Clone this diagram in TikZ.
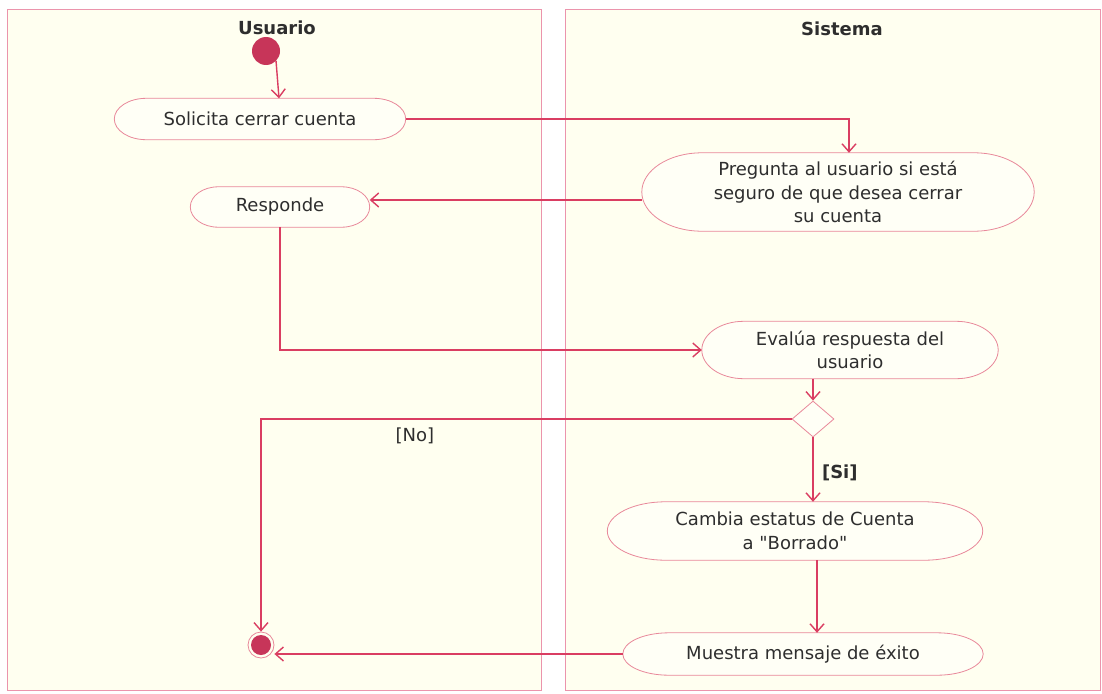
\documentclass[tikz,border=0pt]{standalone}
\usepackage{fontspec}
\setmainfont{DejaVu Sans}[Ligatures=TeXOff]
\usetikzlibrary{arrows.meta,shapes.geometric,positioning,calc,backgrounds}

\definecolor{laneline}{HTML}{EB94AC}
\definecolor{lanefill}{HTML}{FFFFF0}
\definecolor{actline}{HTML}{E8889A}
\definecolor{actfill}{HTML}{FFFFF6}
\definecolor{flowred}{HTML}{DA3E62}
\definecolor{dotred}{HTML}{C73559}
\definecolor{txt}{HTML}{2E2E2E}

% activity outline with half-elliptic ends: node name, end radius
\newcommand{\actborde}[2]{%
  \draw[draw=actline, fill=actfill, line width=0.8pt]
    let \p1=(#1.north west), \p2=(#1.south east) in
    (\x1+#2,\y1) -- (\x2-#2,\y1)
      arc[start angle=90, end angle=-90, x radius=#2, y radius={(\y1-\y2)/2}]
    -- (\x1+#2,\y2)
      arc[start angle=-90, end angle=-270, x radius=#2, y radius={(\y1-\y2)/2}]
    -- cycle;}

\begin{document}
\begin{tikzpicture}[x=1pt, y=-1pt,
    lane/.style={draw=laneline, fill=lanefill, line width=0.8pt},
    lanetitle/.style={font=\fontsize{18}{22}\bfseries, text=txt},
    act/.style={rectangle, text=txt, align=center, inner sep=0pt,
                font=\fontsize{18}{23.5}\selectfont},
    guard/.style={text=txt, font=\fontsize{18}{22}\selectfont},
    flow/.style={draw=flowred, line width=1.4pt,
                 -{Straight Barb[length=8pt,width=14pt,line width=1.4pt]}}]

    % --- activities ---
    \node[circle, fill=dotred, minimum size=28pt, inner sep=0pt] (inicio) at (266,51) {};
    \node[act, minimum width=291pt, minimum height=41pt] (solicita) at (260,119) {Solicita cerrar cuenta};
    \node[act, minimum width=392pt, minimum height=78pt] (pregunta) at (838,192)
        {Pregunta al usuario si está\\seguro de que desea cerrar\\su cuenta};
    \node[act, minimum width=179pt, minimum height=40pt] (responde) at (280,207) {Responde};
    \node[act, minimum width=296pt, minimum height=57pt] (evalua) at (850,350)
        {Evalúa respuesta del\\usuario};
    \node[diamond, draw=actline, fill=actfill, line width=0.8pt, inner sep=0pt,
          minimum width=42pt, minimum height=36pt] (decision) at (813,419) {};
    \node[act, minimum width=375pt, minimum height=58pt] (cambia) at (795,531)
        {Cambia estatus de Cuenta\\a "Borrado"};
    \node[act, minimum width=360pt, minimum height=42pt] (muestra) at (803,654)
        {Muestra mensaje de éxito};
    \node[circle, draw=actline, fill=lanefill, line width=0.8pt, minimum size=26pt,
          inner sep=0pt] (fin) at (261,645) {};
    \fill[dotred] (fin.center) circle (10);
    \coordinate (paso) at (817,0);

    % --- page, swimlanes and activity outlines ---
    \begin{scope}[on background layer]
        \fill[white] (0,0) rectangle (1102,693);
        \draw[lane] (7,9) rectangle (541,690);
        \draw[lane] (565,9) rectangle (1100,690);
        \actborde{solicita}{32pt}
        \actborde{responde}{28pt}
        \actborde{pregunta}{60pt}
        \actborde{evalua}{42pt}
        \actborde{cambia}{58pt}
        \actborde{muestra}{46pt}
    \end{scope}
    \useasboundingbox (0,0) rectangle (1102,693);
    \node[lanetitle] (usuario) at (277,28) {Usuario};
    \node[lanetitle] (sistema) at (842,29) {Sistema};

    % --- control flow ---
    \draw[flow] (inicio.-45) -- ($(solicita.north)+(19,0)$);
    \draw[flow] (solicita.east) -| ($(pregunta.north)+(11,0)$);
    \draw[flow] ($(pregunta.west)+(0,8)$) -- ($(responde.east)+(0,-7)$);
    \draw[flow] (responde.south) |- (evalua.west);
    \draw[flow] (evalua.south -| decision.north) -- (decision.north);
    \draw[flow] (decision.west) -| (fin.north)
        node[guard, pos=0.355, below=5pt] (no) {[No]};
    \draw[flow] (decision.south) -- (cambia.north -| decision.south)
        node[guard, font=\fontsize{18}{22}\bfseries, pos=0.55, right=5pt] (si) {[Si]};
    \draw[flow] (cambia.south -| paso) -- (muestra.north -| paso);
    \draw[flow] (muestra.west) -- (muestra.west -| fin.east);

\end{tikzpicture}
\end{document}
